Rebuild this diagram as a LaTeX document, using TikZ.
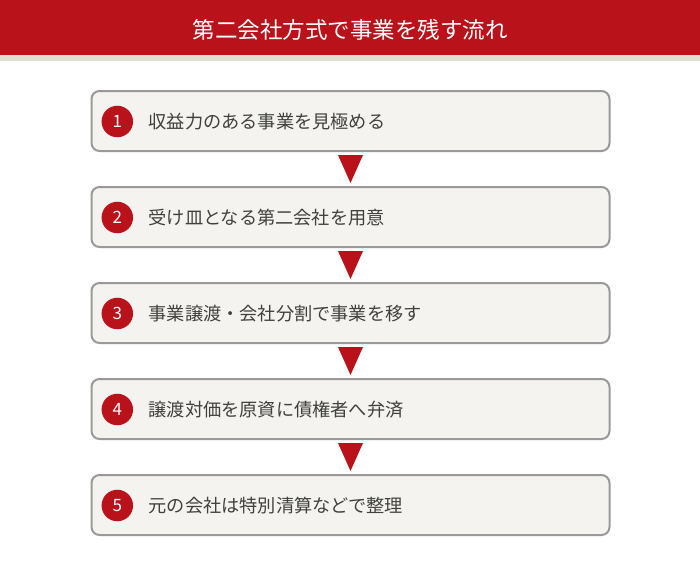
\documentclass[tikz,border=0pt]{standalone}
\usepackage{fontspec}
\setmainfont{Noto Sans CJK JP}
\usetikzlibrary{calc}
\definecolor{hdrred}{HTML}{B9121B}
\definecolor{stripe}{HTML}{E0DED2}
\definecolor{boxfill}{HTML}{F4F3EF}
\definecolor{boxline}{HTML}{999999}
\definecolor{txt}{HTML}{404040}
\tikzset{
  stepbox/.style={draw=boxline, line width=2pt, fill=boxfill, rounded corners=8pt,
    minimum width=518pt, minimum height=60pt, inner sep=0pt},
  numdot/.style={circle, fill=hdrred, minimum size=31.5pt, inner sep=0pt,
    text=white, font=\fontsize{17}{17}\selectfont},
  steptext/.style={anchor=west, text=txt, inner sep=0pt, font=\fontsize{18.2}{19}\selectfont},
  downtri/.style={fill=hdrred}
}
\begin{document}
\begin{tikzpicture}[x=1pt,y=-1pt]
\useasboundingbox (0,0) rectangle (700,566);
\fill[hdrred] (0,0) rectangle (700,55);
\fill[stripe] (0,55) rectangle (700,61);
\node[text=white, font=\fontsize{22.5}{23}\selectfont, inner sep=0pt] (title) at (350,29.5) {第二会社方式で事業を残す流れ};
\foreach \i/\t in {1/収益力のある事業を見極める,2/受け皿となる第二会社を用意,3/事業譲渡・会社分割で事業を移す,4/譲渡対価を原資に債権者へ弁済,5/元の会社は特別清算などで整理}{
  \node[stepbox] (b\i) at (350.5,{121+96*(\i-1)}) {};
  \node[numdot] (n\i) at (117.3,{121.5+96*(\i-1)}) {\i};
  \node[steptext] (t\i) at (148.5,{121.5+96*(\i-1)}) {\t};
}
\foreach \a/\b in {1/2,2/3,3/4,4/5}{
  \fill[downtri] ([xshift=-12.5pt,yshift=-3pt]b\a.south) -- ([xshift=12.5pt,yshift=-3pt]b\a.south) -- ([yshift=3pt]b\b.north) -- cycle;
}
\end{tikzpicture}
\end{document}
